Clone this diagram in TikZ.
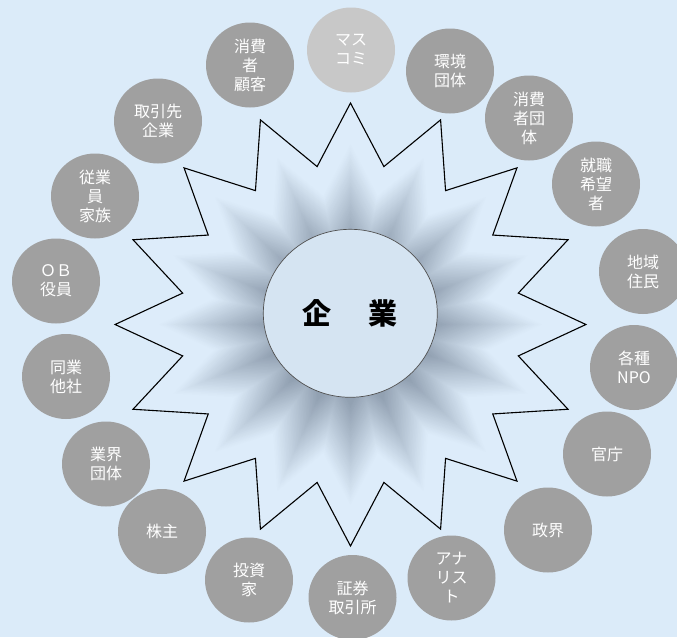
\documentclass[tikz,border=0pt]{standalone}
\usepackage{fontspec}
\newfontfamily\jp{Noto Sans CJK JP}
\usetikzlibrary{shapes.geometric}
\definecolor{bg}{RGB}{219,235,249}
\definecolor{starlight}{RGB}{221,236,250}
\definecolor{stardark}{RGB}{146,161,178}
\definecolor{bubblegray}{RGB}{160,160,160}
\definecolor{bubblepale}{RGB}{200,200,200}
\definecolor{corefill}{RGB}{213,228,242}
\definecolor{coreline}{RGB}{80,80,80}
\begin{document}
\begin{tikzpicture}[x=1pt,y=-1pt,
  bubble/.style={ellipse, fill=bubblegray, minimum width=88pt, minimum height=85pt,
    inner sep=0pt, text=white, align=center,
    font=\jp\fontsize{16}{19}\selectfont},
  corenode/.style={ellipse, fill=corefill, draw=coreline, line width=0.7pt,
    minimum width=174pt, minimum height=168pt, inner sep=0pt,
    font=\jp\bfseries\fontsize{29}{32}\selectfont}
 ]
\fill[bg] (0,0) rectangle (677,637);
\useasboundingbox (0,0) rectangle (677,637);

% star with path gradient (scaled contours)
\begin{scope}[shift={(350.5,324.5)}, xscale=1.0628]
  \foreach \j in {64,63,...,14} {
    \pgfmathsetmacro\tsc{(\j-0.5)/64}
    \pgfmathsetmacro\fmix{max(0,min(100,100*(1-2.2*(\tsc-0.36))))}
    \fill[stardark!\fmix!starlight] (90:{221.5*\j/64})
      \foreach \k [evaluate=\k as \rad using {(mod(\k,2)==1 ? 161 : 221.5)*\j/64}] in {1,...,31} { -- ({90+\k*11.25}:\rad) } -- cycle;
  }
  \draw[black, line width=1.1pt, line join=miter] (90:221.5)
      \foreach \k [evaluate=\k as \rad using {(mod(\k,2)==1 ? 161 : 221.5)}] in {1,...,31} { -- ({90+\k*11.25}:\rad) } -- cycle;
\end{scope}

\node[corenode] (core) at (350.3,313.3) {企\hspace{37pt}業};

\node[bubble, fill=bubblepale] (b1) at (351,50) {マス\\コミ};
\node[bubble] (b2) at (450,71) {環境\\団体};
\node[bubble] (b3) at (529,118) {消費\\者団\\体};
\node[bubble] (b4) at (596,184) {就職\\希望\\者};
\node[bubble] (b5) at (643,271.5) {地域\\住民};
\node[bubble] (b6) at (634,367.5) {各種\\NPO};
\node[bubble] (b7) at (607,454) {官庁};
\node[bubble] (b8) at (548,530) {政界};
\node[bubble] (b9) at (451.5,578) {アナ\\リス\\ト};
\node[bubble] (b10) at (352.5,597.5) {証券\\取引所};
\node[bubble] (b11) at (249,580) {投資\\家};
\node[bubble] (b12) at (162,531.5) {株主};
\node[bubble] (b13) at (106,464) {業界\\団体};
\node[bubble] (b14) at (66,376.5) {同業\\他社};
\node[bubble] (b15) at (56,281) {ＯＢ\\役員};
\node[bubble] (b16) at (95,196) {従業\\員\\家族};
\node[bubble] (b17) at (158,121) {取引先\\企業};
\node[bubble] (b18) at (250,65) {消費\\者\\顧客};
\end{tikzpicture}
\end{document}
